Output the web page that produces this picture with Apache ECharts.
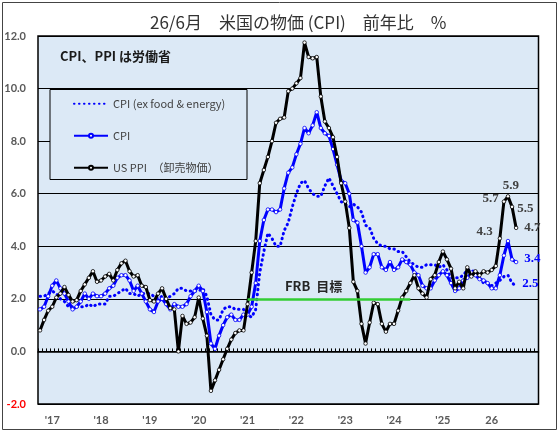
<!DOCTYPE html>
<html><head><meta charset="utf-8">
<script src="https://cdn.jsdelivr.net/npm/echarts@6/dist/echarts.min.js"></script>
<style>html,body{margin:0;padding:0;background:#fff}#c{width:560px;height:433px}</style>
</head><body><div id="c"></div>
<script>
// Monthly categories, Oct 2016 .. Dec 2026
const months = [];
for (let y = 2016, m = 10; y < 2027;) { months.push(y + '/' + m); m++; if (m > 12) { m = 1; y++; } }

const yearTickMonths = ['2017/1','2018/1','2019/1','2020/1','2021/1','2022/1','2023/1','2024/1','2025/1','2026/1'];
const yearTickLabels = ["'17","'18","'19","'20","'21","'22","'23","'24","'25","26"];

const coreName = 'CPI (ex food & energy)';
const cpiName = 'CPI';
const ppiName = 'US PPI　（卸売物価）';

const coreCPI = [2.1,2.1,2.2,2.3,2.2,2.0,1.9,1.7,1.7,1.7,1.7,1.7,1.8,1.7,1.8,1.8,1.8,2.1,2.1,2.2,2.3,2.4,2.2,2.2,2.1,2.2,2.2,2.2,2.1,2.0,2.1,2.0,2.1,2.2,2.4,2.4,2.3,2.3,2.3,2.3,2.4,2.1,1.4,1.2,1.2,1.6,1.7,1.7,1.6,1.6,1.6,1.4,1.3,1.6,3.0,3.8,4.5,4.3,4.0,4.0,4.6,4.9,5.5,6.0,6.4,6.5,6.2,6.0,5.9,5.9,6.3,6.6,6.3,6.0,5.7,5.6,5.5,5.6,5.5,5.3,4.8,4.7,4.3,4.1,4.0,4.0,3.9,3.9,3.8,3.8,3.6,3.4,3.3,3.2,3.2,3.3,3.3,3.3,3.2,3.3,3.1,2.8,2.8,2.8,2.9,3.1,3.1,3.0,2.8,2.6,2.6,2.5,2.6,2.7,2.85,2.9,2.6,2.5];

const cpi = [1.6,1.7,2.1,2.5,2.7,2.4,2.2,1.9,1.6,1.7,1.9,2.2,2.0,2.2,2.1,2.1,2.2,2.4,2.5,2.8,2.9,2.9,2.7,2.3,2.5,2.2,1.9,1.6,1.5,1.9,2.0,1.8,1.6,1.8,1.7,1.7,1.8,2.1,2.3,2.5,2.3,1.5,0.3,0.1,0.6,1.0,1.3,1.4,1.2,1.2,1.4,1.4,1.7,2.6,4.2,5.0,5.4,5.4,5.3,5.4,6.2,6.8,7.0,7.5,7.9,8.5,8.3,8.6,9.1,8.5,8.3,8.2,7.7,7.1,6.5,6.4,6.0,5.0,4.9,4.0,3.0,3.2,3.7,3.7,3.2,3.1,3.4,3.1,3.2,3.5,3.4,3.3,3.0,2.9,2.5,2.4,2.4,2.7,2.9,3.05,2.9,2.6,2.3,2.4,2.7,2.8,3.0,2.9,2.75,2.7,2.6,2.4,2.4,2.9,3.65,4.2,3.5,3.4];

const ppi = [0.8,1.2,1.55,1.7,2.05,2.2,2.45,2.15,1.9,1.95,2.3,2.55,2.8,3.05,2.65,2.7,2.85,2.95,2.7,3.1,3.35,3.45,3.05,2.85,2.9,2.5,2.45,1.95,1.9,2.2,2.4,2.0,1.65,1.6,0.0,1.35,1.05,1.1,1.3,2.05,1.25,0.6,-1.5,-1.1,-0.7,-0.3,0.1,0.45,0.7,0.8,0.8,1.8,3.0,4.2,6.4,6.9,7.4,8.0,8.7,8.85,8.9,9.9,10.0,10.2,10.4,11.75,11.2,11.15,11.2,9.7,8.75,8.5,8.15,7.4,6.4,5.7,4.7,2.65,2.3,1.05,0.3,1.1,1.85,1.8,1.05,0.75,1.05,1.05,1.55,2.05,2.3,2.6,2.9,2.4,2.2,2.05,2.75,2.9,3.4,3.8,3.5,3.15,2.4,2.65,2.4,3.2,2.85,3.05,2.9,3.05,3.0,3.1,3.25,4.3,5.7,5.9,5.5,4.7];

const frbTarget = 2.0, frbFrom = '2021/1', frbTo = '2024/5';

const blue = '#0000ff';
const grey = '#404040';
const numFont = {fontFamily: 'Liberation Serif', fontWeight: 'bold', fontSize: 13};

function labelled(values, spec, color) {
  const n = values.length;
  return values.map((v, i) => {
    const s = spec[i - n];
    if (!s) return v;
    return {value: v, label: Object.assign({show: true, color: color, formatter: p => Number(p.value).toFixed(1)}, numFont, s)};
  });
}

const chart = echarts.init(document.getElementById('c'));
chart.setOption({
  animation: false,
  backgroundColor: '#fff',
  title: {
    text: '26/6月　米国の物価 (CPI)　前年比　%', left: 145, top: 9,
    textStyle: {fontFamily: 'Noto Sans CJK JP', fontSize: 17, fontWeight: 'normal', color: '#333'}
  },
  grid: {left: 38, right: 21.5, top: 36, bottom: 29, show: true, backgroundColor: '#dce9f6', borderColor: '#000', borderWidth: 1.5},
  legend: {
    orient: 'vertical', left: 68, top: 93.3, itemWidth: 34, itemHeight: 5, itemGap: 21,
    textStyle: {fontFamily: 'Noto Sans CJK JP', fontSize: 11, color: grey},
    data: [{name: coreName, itemStyle: {opacity: 0}}, {name: cpiName}, {name: ppiName}]
  },
  graphic: [
    {type: 'rect', z: 3, shape: {x: 50, y: 89.5, width: 197, height: 90}, style: {fill: '#dce9f6', stroke: '#000', lineWidth: 1}},
    {type: 'text', z: 5, left: 60, top: 50, style: {text: 'CPI、PPI は労働省', font: 'bold 13px "Noto Sans CJK JP"', fill: '#1a1a1a'}},
    {type: 'text', z: 5, left: 285, top: 280, style: {text: 'FRB  目標', font: 'bold 13px "Noto Sans CJK JP"', fill: '#262626'}},
    {type: 'rect', z: 0, shape: {x: 2.5, y: 2.5, width: 554, height: 427}, style: {fill: 'none', stroke: '#444', lineWidth: 1}}
  ],
  xAxis: [
    {type: 'category', data: months, boundaryGap: true,
     axisLine: {onZero: true, lineStyle: {color: '#000', width: 1.5}},
     axisTick: {show: true, inside: true, length: 3, interval: 0, lineStyle: {color: '#000', width: 1}},
     axisLabel: {show: false}, splitLine: {show: false}},
    {type: 'category', data: months, boundaryGap: true, position: 'bottom',
     axisLine: {show: false, onZero: false}, axisTick: {show: false}, splitLine: {show: false},
     axisLabel: {interval: (i, v) => yearTickMonths.includes(v),
                 formatter: v => { const k = yearTickMonths.indexOf(v); return k >= 0 ? yearTickLabels[k] : ''; },
                 color: '#595959', fontWeight: 'bold', fontSize: 11, fontFamily: 'Lato', margin: 11}}
  ],
  yAxis: {
    type: 'value', min: -2, max: 12, interval: 2,
    axisLine: {show: false}, axisTick: {show: false},
    splitLine: {lineStyle: {color: '#000', width: 1}},
    axisLabel: {formatter: v => Number(v).toFixed(1), color: v => Number(v) < 0 ? '#ff0000' : '#595959',
                fontWeight: 'bold', fontSize: 11, fontFamily: 'Lato', margin: 12}
  },
  series: [
    {name: coreName, type: 'line', symbol: 'circle', symbolSize: 0.1, showAllSymbol: true,
     data: labelled(coreCPI, {'-1': {position: 'right', offset: [1, -2]}}, blue),
     lineStyle: {color: blue, width: 3, type: [0.5, 4.5], cap: 'round'}, itemStyle: {color: blue}, z: 2,
     markLine: {silent: true, symbol: 'none', label: {show: false},
       lineStyle: {color: '#33cc33', width: 2.5, type: 'solid'},
       data: [[{coord: [frbFrom, frbTarget]}, {coord: [frbTo, frbTarget]}]]}},
    {name: cpiName, type: 'line', symbol: 'circle', symbolSize: 3.5, showAllSymbol: true,
     data: labelled(cpi, {'-1': {position: 'right', offset: [1, -3]}}, blue),
     lineStyle: {color: blue, width: 3}, itemStyle: {color: '#fff', borderColor: blue, borderWidth: 0.8}, z: 3},
    {name: ppiName, type: 'line', symbol: 'circle', symbolSize: 3.5, showAllSymbol: true,
     data: labelled(ppi, {
        '-5': {position: 'left', offset: [0, -7]},
        '-4': {position: 'left', offset: [2, -3]},
        '-3': {position: 'top', offset: [3, 3]},
        '-2': {position: 'right', offset: [-2, 2]},
        '-1': {position: 'right', offset: [1, 0]}}, grey),
     lineStyle: {color: '#000', width: 3}, itemStyle: {color: '#fff', borderColor: '#000', borderWidth: 0.8}, z: 4}
  ]
});
</script></body></html>
